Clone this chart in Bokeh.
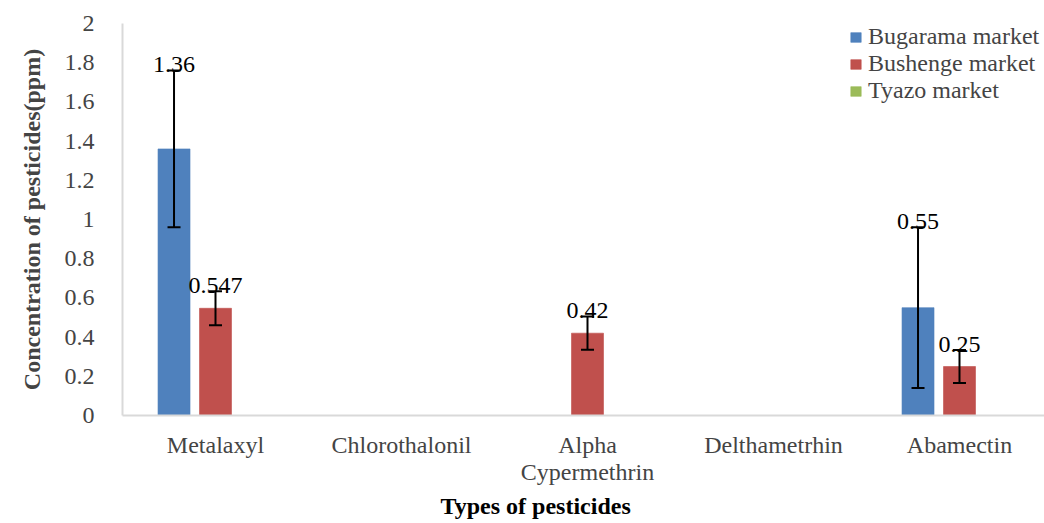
from bokeh.plotting import figure
from bokeh.models import (ColumnDataSource, Range1d, FixedTicker, CustomJSTickFormatter,
                          Whisker, TeeHead, Legend, LegendItem, Title, LabelSet)
from bokeh.embed import file_html
from bokeh.resources import INLINE

categories = ["Metalaxyl", "Chlorothalonil", "Alpha\nCypermethrin", "Delthametrhin", "Abamectin"]
series_names = ["Bugarama market", "Bushenge market", "Tyazo market"]
bugarama = [1.36, 0.0, 0.0, 0.0, 0.55]
bushenge = [0.547, 0.0, 0.42, 0.0, 0.25]
tyazo = [0.0, 0.0, 0.0, 0.0, 0.0]
bugarama_err = [0.40, 0.0, 0.0, 0.0, 0.41]
bushenge_err = [0.087, 0.0, 0.085, 0.0, 0.084]
tyazo_err = [0.0, 0.0, 0.0, 0.0, 0.0]
y_ticks = [0, 0.2, 0.4, 0.6, 0.8, 1.0, 1.2, 1.4, 1.6, 1.8, 2.0]

colors = ["#4F81BD", "#C0504D", "#9BBB59"]
FONT = "Liberation Serif"
FS = "24px"

p = figure(width=1044, height=523, output_backend="svg", toolbar_location=None,
           x_range=Range1d(0.5, 5.457), y_range=Range1d(0, 2),
           min_border_left=122, min_border_right=0, min_border_top=23, min_border_bottom=108)
p.outline_line_color = None
p.xgrid.visible = False
p.ygrid.visible = False
p.background_fill_color = "white"

idx = list(range(1, len(categories) + 1))
offsets = [-0.223, 0.0, 0.223]
all_vals = [bugarama, bushenge, tyazo]
all_errs = [bugarama_err, bushenge_err, tyazo_err]
renderers = []
for name, vals, errs, off, col in zip(series_names, all_vals, all_errs, offsets, colors):
    xs = [i + off for i in idx]
    src = ColumnDataSource(dict(x=xs, top=vals))
    r = p.vbar(x="x", top="top", width=0.172, source=src, fill_color=col, line_color=col,
               line_alpha=0.6)
    renderers.append((name, r))
    has_err = [i for i, e in enumerate(errs) if e > 0]
    if has_err:
        esrc = ColumnDataSource(dict(x=[xs[i] for i in has_err],
                                     upper=[vals[i] + errs[i] for i in has_err],
                                     lower=[vals[i] - errs[i] for i in has_err]))
        w = Whisker(base="x", upper="upper", lower="lower", source=esrc, line_color="black",
                    line_width=2, level="annotation",
                    upper_head=TeeHead(size=13, line_width=2, line_color="black"),
                    lower_head=TeeHead(size=13, line_width=2, line_color="black"))
        p.add_layout(w)
    nz = [i for i, v in enumerate(vals) if v > 0]
    if nz:
        lsrc = ColumnDataSource(dict(x=[xs[i] for i in nz],
                                     y=[vals[i] + errs[i] + 0.03 for i in nz],
                                     t=[f"{vals[i]:g}" for i in nz]))
        ls = LabelSet(x="x", y="y", text="t", source=lsrc, text_align="center",
                      text_baseline="middle", text_font=FONT, text_font_size=FS,
                      text_color="black", level="overlay")
        p.add_layout(ls)

legend = Legend(items=[LegendItem(label=n, renderers=[r]) for n, r in renderers],
                border_line_color=None, background_fill_alpha=0,
                label_text_font=FONT, label_text_font_size=FS, glyph_width=13,
                glyph_height=12, spacing=0, padding=0, margin=0, label_height=24,
                label_text_line_height=0.9, label_standoff=6)
legend.location = (727, 311)
p.add_layout(legend)

# x axis
p.xaxis.ticker = FixedTicker(ticks=idx)
p.xaxis.major_label_overrides = {i: c for i, c in zip(idx, categories)}
p.xaxis.major_tick_line_color = None
p.xaxis.minor_tick_line_color = None
p.xaxis.axis_line_color = "#d9d9d9"
p.xaxis.axis_line_width = 2
p.xaxis.major_label_text_font = FONT
p.xaxis.major_label_text_font_size = FS
p.xaxis.major_label_standoff = 10
p.xaxis.major_label_text_line_height = 1.05

# y axis
p.yaxis.ticker = FixedTicker(ticks=y_ticks)
p.yaxis.formatter = CustomJSTickFormatter(code="return String(Math.round(tick*10)/10);")
p.yaxis.major_tick_line_color = None
p.yaxis.minor_tick_line_color = None
p.yaxis.axis_line_color = "#d9d9d9"
p.yaxis.axis_line_width = 2
p.yaxis.major_label_text_font = FONT
p.yaxis.major_label_text_font_size = FS
p.yaxis.major_label_standoff = 22
p.yaxis.axis_label = "Concentration of pesticides(ppm)"
p.yaxis.axis_label_text_font = FONT
p.yaxis.axis_label_text_font_style = "bold"
p.yaxis.axis_label_text_font_size = FS
p.yaxis.axis_label_standoff = 17

xtitle = Title(text="Types of pesticides", align="left", offset=318, standoff=6,
               text_font=FONT, text_font_style="bold", text_font_size=FS,
               text_color="black")
p.add_layout(xtitle, "below")

open("out.html", "w").write(file_html(p, INLINE))
